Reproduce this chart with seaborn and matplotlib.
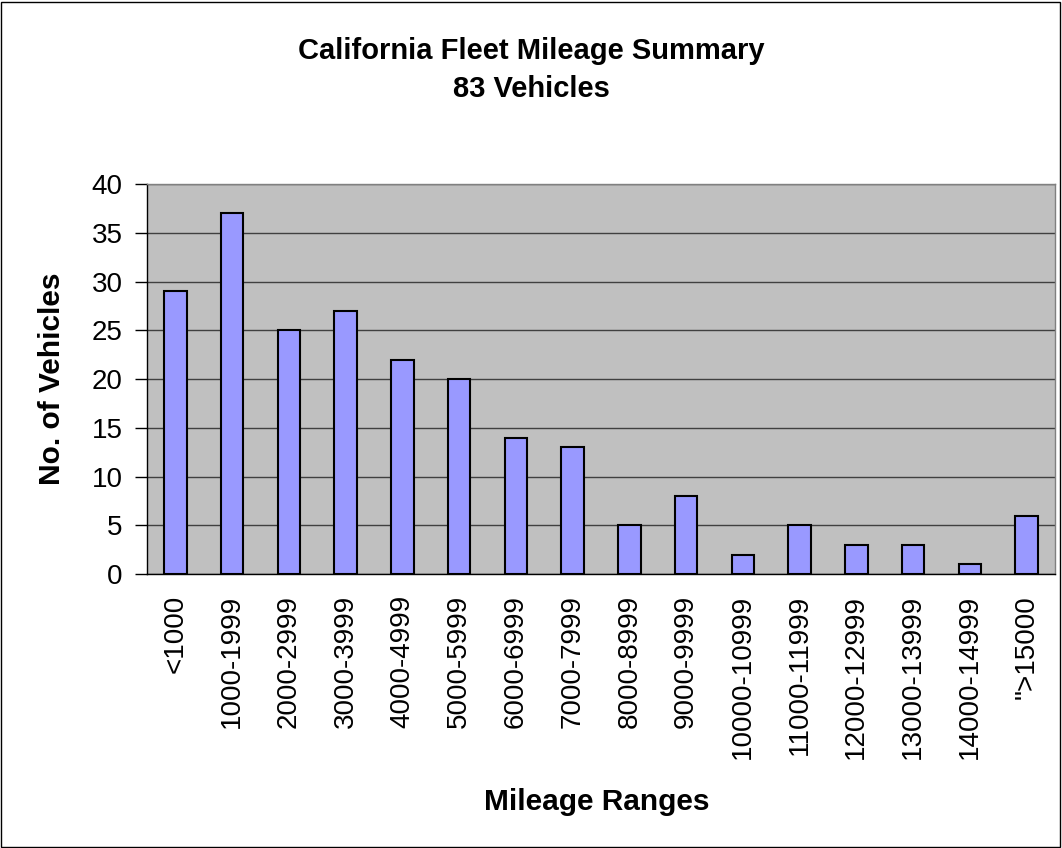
import numpy as np
import pandas as pd
import matplotlib
matplotlib.use("Agg")
import matplotlib.pyplot as plt
import seaborn as sns
from matplotlib.patches import Rectangle

# veriler
araliklar = ["<1000", "1000-1999", "2000-2999", "3000-3999", "4000-4999",
             "5000-5999", "6000-6999", "7000-7999", "8000-8999", "9000-9999",
             "10000-10999", "11000-11999", "12000-12999", "13000-13999",
             "14000-14999", "\">15000"]
arac_sayisi = [29, 37, 25, 27, 22, 20, 14, 13, 5, 8, 2, 5, 3, 3, 1, 6]

df = pd.DataFrame({"aralik": araliklar, "sayi": arac_sayisi})

sns.set_style("white")
plt.rcParams["font.family"] = ["Liberation Sans", "DejaVu Sans"]
plt.rcParams["text.color"] = "black"
plt.rcParams["axes.labelcolor"] = "black"
plt.rcParams["xtick.color"] = "black"
plt.rcParams["ytick.color"] = "black"

fig = plt.figure(figsize=(10.62, 8.48), dpi=100)
ax = fig.add_axes([0.1384, 0.3231, 0.855, 0.4599])

ax.set_facecolor("#C0C0C0")
sns.barplot(data=df, x="aralik", y="sayi", color="#9999FF", edgecolor="black",
            linewidth=1.5, width=0.4, saturation=1, ax=ax, zorder=3)

ax.set_ylim(0, 40)
ax.set_xlim(-0.5, len(araliklar) - 0.5)
ax.set_yticks(range(0, 41, 5))
ax.yaxis.grid(True, color="#404040", linewidth=1)
ax.set_axisbelow(True)

# x eksenindeki ayraç çizgileri
ax.set_xticks(np.arange(-0.5, len(araliklar)), minor=True)
ax.tick_params(axis="x", which="minor", length=7, width=1, color="black", direction="out")
ax.tick_params(axis="x", which="major", length=0, labelsize=20, pad=15)
ax.tick_params(axis="y", length=8.5, width=1, color="black", direction="out",
               labelsize=20, left=True, pad=9)
ax.set_xticklabels(araliklar, rotation=90)

for s in ["left", "bottom"]:
    ax.spines[s].set_color("black")
    ax.spines[s].set_linewidth(1)
for s in ["top", "right"]:
    ax.spines[s].set_color("#808080")
    ax.spines[s].set_linewidth(1)

ax.set_xlabel("Mileage Ranges", fontsize=21.5, fontweight="bold", va="baseline")
ax.set_ylabel("No. of Vehicles", fontsize=21.5, fontweight="bold", va="center")
ax.xaxis.set_label_coords(0.4956, -0.605)
ax.yaxis.set_label_coords(-0.1046, 0.5)

fig.text(0.5, 1 - 59 / 848, "California Fleet Mileage Summary", ha="center",
         va="baseline", fontsize=21, fontweight="bold")
fig.text(0.5, 1 - 97 / 848, "83 Vehicles", ha="center",
         va="baseline", fontsize=21, fontweight="bold")

# dış çerçeve
fig.patches.append(Rectangle((0.001, 0.001), 0.997, 0.997, transform=fig.transFigure,
                             fill=False, edgecolor="black", linewidth=1))

plt.savefig("out.png", dpi=100)
